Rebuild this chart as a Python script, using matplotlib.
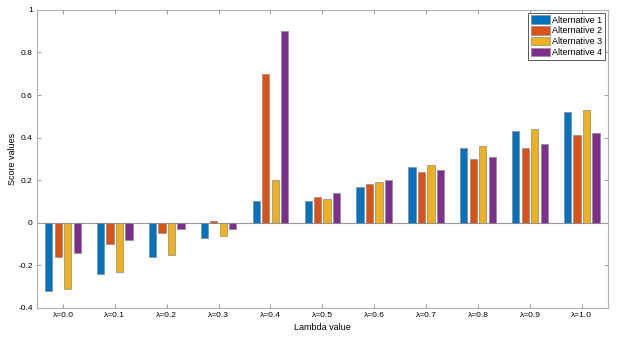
import numpy as np
import matplotlib
matplotlib.use('Agg')
import matplotlib.pyplot as plt

plt.rcParams['font.family'] = ['Liberation Sans', 'DejaVu Sans']

# lambda categories and scores for each alternative
lambdas = ['λ=0.0', 'λ=0.1', 'λ=0.2', 'λ=0.3', 'λ=0.4', 'λ=0.5',
           'λ=0.6', 'λ=0.7', 'λ=0.8', 'λ=0.9', 'λ=1.0']
alt1 = [-0.32, -0.24, -0.16, -0.07, 0.10, 0.10, 0.17, 0.26, 0.35, 0.43, 0.52]
alt2 = [-0.16, -0.10, -0.05, 0.01, 0.70, 0.12, 0.18, 0.24, 0.30, 0.35, 0.41]
alt3 = [-0.31, -0.23, -0.15, -0.06, 0.20, 0.11, 0.19, 0.27, 0.36, 0.44, 0.53]
alt4 = [-0.14, -0.08, -0.03, -0.03, 0.90, 0.14, 0.20, 0.25, 0.31, 0.37, 0.42]
names = ['Alternative 1', 'Alternative 2', 'Alternative 3', 'Alternative 4']
yticks = [-0.4, -0.2, 0, 0.2, 0.4, 0.6, 0.8, 1]
ylabels = ['-0.4', '-0.2', '0', '0.2', '0.4', '0.6', '0.8', '1']

colors = ['#0072BD', '#D95319', '#EDB120', '#7E2F8E']

fig = plt.figure(figsize=(6.17, 3.41), dpi=100)
ax = fig.add_axes([0.06, 0.097, 0.925, 0.874])

x = np.arange(len(lambdas))
w = 0.14
step = 0.183
series = [alt1, alt2, alt3, alt4]
for i in range(4):
    ax.bar(x + (i - 1.5) * step, series[i], width=w, color=colors[i],
           edgecolor='#8c8c8c', linewidth=0.5, label=names[i], zorder=3)

ax.axhline(0, color='#9a9a9a', linewidth=0.8, zorder=2)
ax.set_xlim(-0.5, 10.5)
ax.set_ylim(-0.4, 1)
ax.set_xticks(x)
ax.set_xticklabels(lambdas, fontsize=6)
ax.set_yticks(yticks)
ax.set_yticklabels(ylabels, fontsize=6)
ax.tick_params(direction='in', top=True, right=True, length=3, width=0.6,
               color='#909090', pad=3)
for s in ax.spines.values():
    s.set_color('#b0b0b0')
    s.set_linewidth(0.8)

ax.set_xlabel('Lambda value', fontsize=6.5, labelpad=3)
ax.set_ylabel('Score values', fontsize=6.5, labelpad=1)

leg = ax.legend(loc='upper right', fontsize=6.5, fancybox=False,
                edgecolor='#404040', framealpha=1, borderpad=0.3,
                handlelength=2.2, handleheight=1.1, handletextpad=0.2,
                labelspacing=0.15, borderaxespad=0.3)
leg.get_frame().set_linewidth(0.6)

fig.savefig('out.png', dpi=100)
